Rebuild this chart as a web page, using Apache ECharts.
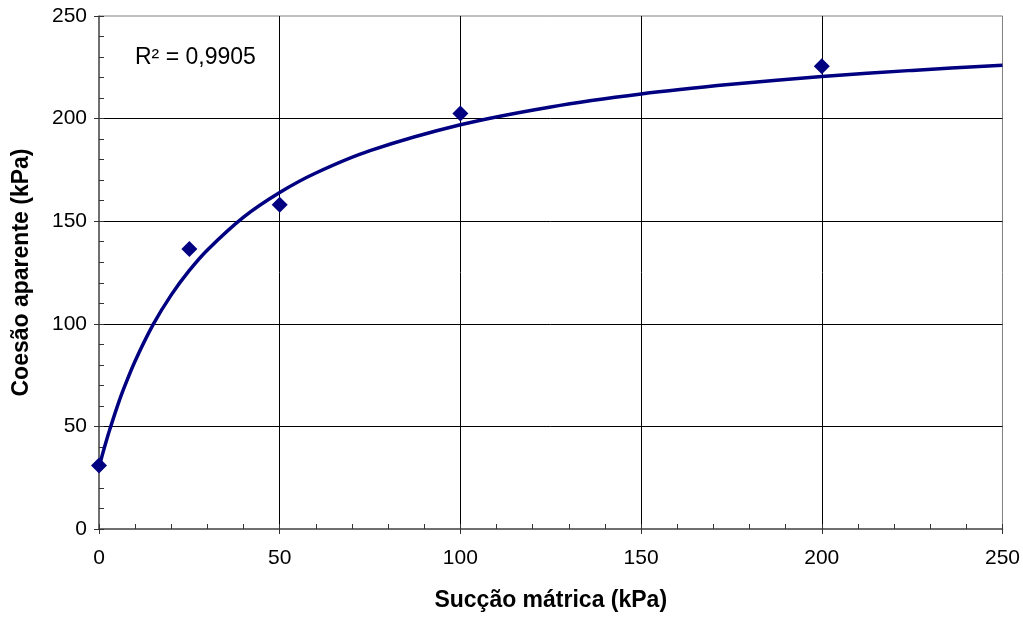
<!DOCTYPE html>
<html><head><meta charset="utf-8">
<script src="https://cdn.jsdelivr.net/npm/echarts@6/dist/echarts.min.js"></script>
<style>html,body{margin:0;padding:0;background:#fff}#c{width:1023px;height:617px}</style>
</head><body><div id="c"></div>
<script>
// Measured points (suction kPa, apparent cohesion kPa)
const suction = [0, 25, 50, 100, 200];
const cohesion = [31, 136.5, 158, 202.5, 225.5];
// Trend line
const trendX = [0, 1, 2, 3, 5, 7, 10, 15, 20, 25, 30, 40, 50, 60, 75, 100, 125, 150, 175, 200, 225, 250];
const trendY = [30, 36.6, 42.8, 48.6, 59.4, 69.1, 81.9, 99.7, 114.1, 126, 136, 152, 164, 173.5, 184.4, 197, 205.7, 212, 216.7, 220.5, 223.5, 226];
const xTicks = [0, 50, 100, 150, 200, 250];
const yTicks = [0, 50, 100, 150, 200, 250];
const r2Label = 'R² = 0,9905';
const xName = 'Sucção mátrica (kPa)';
const yName = 'Coesão aparente (kPa)';

const font = 'Liberation Sans, Arial, sans-serif';
const chart = echarts.init(document.getElementById('c'), null, {renderer: 'canvas'});
function axis(name, ticks, gap, isX) {
  return {
    type: 'value', min: ticks[0], max: ticks[ticks.length - 1], interval: ticks[1] - ticks[0],
    name: name, nameLocation: 'middle', nameGap: gap,
    nameTextStyle: {fontFamily: font, fontSize: 23, fontWeight: 'bold', color: '#000'},
    axisLine: {show: true, lineStyle: {color: '#555', width: 1.5}},
    axisTick: {show: true, inside: true, length: 5, lineStyle: {color: '#333'}},
    minorTick: {show: true, splitNumber: 5, length: 5, lineStyle: {color: '#333'}},
    axisLabel: {fontFamily: font, fontSize: 21, color: '#000', margin: isX ? 19 : 12},
    splitLine: {show: true, showMinLine: false, showMaxLine: false, lineStyle: {color: '#000', width: 1}},
    minorSplitLine: {show: false}
  };
}
function outerTicks(ticks) {
  return {
    type: 'value', min: ticks[0], max: ticks[ticks.length - 1], interval: ticks[1] - ticks[0],
    axisLine: {show: false}, axisLabel: {show: false}, splitLine: {show: false},
    axisTick: {show: true, inside: false, length: 5, lineStyle: {color: '#333'}}
  };
}
const xa = axis(xName, xTicks, 60, true);
const ya = axis(yName, yTicks, 66, false);
const xo = Object.assign(outerTicks(xTicks), {position: 'bottom'});
const yo = Object.assign(outerTicks(yTicks), {position: 'left'});
chart.setOption({
  animation: false,
  backgroundColor: '#fff',
  grid: {left: 99, right: 20, top: 16, bottom: 86, show: true, borderColor: '#808080', borderWidth: 1},
  xAxis: [xa, xo],
  yAxis: [ya, yo],
  graphic: [{type: 'text', left: 135, top: 46, style: {text: r2Label, font: '23px ' + font, fill: '#000'}}],
  series: [
    {type: 'line', data: trendX.map((x, i) => [x, trendY[i]]), smooth: 0.3, showSymbol: false,
     lineStyle: {color: '#000080', width: 3.5}, z: 3},
    {type: 'scatter', data: suction.map((x, i) => [x, cohesion[i]]), symbol: 'diamond', symbolSize: 16,
     itemStyle: {color: '#000080', opacity: 1}, z: 4}
  ]
});
</script></body></html>
